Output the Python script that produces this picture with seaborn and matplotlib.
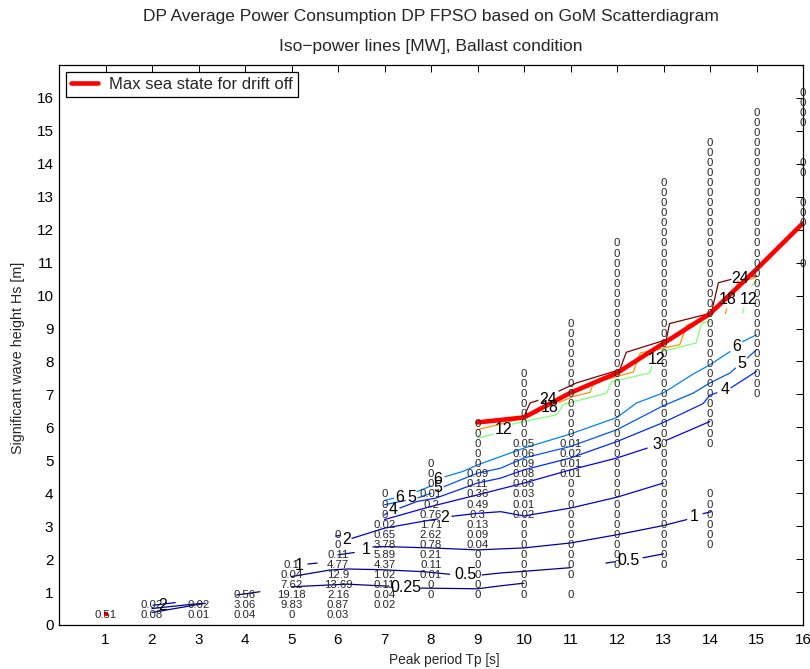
import matplotlib
matplotlib.use("Agg")
import matplotlib.pyplot as plt
import numpy as np
import pandas as pd
import seaborn as sns

# ---------------------------------------------------------------- data
HS_BIN = 0.3048  # Hs class width of the scatter diagram (1 ft)

# scatter-diagram cells per peak-period column, from first listed Hs class upward
# ("-" = empty cell)
tp_cols = [1, 2, 3, 4, 5, 6, 7, 8, 9, 10, 11, 12, 13, 14, 15, 16]
first_class = [0, 0, 0, 0, 0, 0, 1, 2, 2, 2, 2, 5, 5, 7, 22, 35]
cells_tp01 = "0.51"
cells_tp02 = "0.08 0.02"
cells_tp03 = "0.01 0.02"
cells_tp04 = "0.04 3.06 0.56"
cells_tp05 = "0 9.83 19.18 7.62 0.04 0.1"
cells_tp06 = "0.03 0.87 2.16 13.69 12.9 4.77 0.11 0 0"
cells_tp07 = "0.02 0.04 0.11 1.02 4.37 5.89 3.78 0.65 0.02 0 0 0"
cells_tp08 = "0 0 0.01 0.11 0.21 0.78 2.62 1.71 0.76 0.2 0.01 0 0 0"
cells_tp09 = "0 0 0 0 0 0.04 0.09 0.13 0.3 0.49 0.36 0.11 0.09 0 0 0 0 0"
cells_tp10 = "0 0 0 0 0 0 0 0 0.02 0.01 0.03 0.06 0.08 0.09 0.06 0.05 0 0 0 0 0 0 0"
cells_tp11 = "0 - 0 0 0 0 0 0 0 0 0 0 0.01 0.01 0.02 0.01 0 0 0 0 0 0 0 0 0 0 0 0"
cells_tp12 = "0 0 0 0 0 0 0 0 0 0 0 0 0 0 0 0 0 0 0 0 0 0 0 0 0 0 0 0 0 0 0 0 0"
cells_tp13 = ("0 0 0 0 0 0 0 0 0 0 0 0 0 0 0 0 0 0 0 0 "
              "0 0 0 0 0 0 0 0 0 0 0 0 0 0 0 0 0 0 0")
cells_tp14 = ("0 0 0 0 0 0 - - - - 0 0 0 0 0 0 0 0 0 0 0 0 0 0 0 0 "
              "0 0 0 0 0 0 0 0 0 0 0 0 0 0 0")
cells_tp15 = "0 0 0 0 0 0 0 0 0 0 0 0 0 0 0 0 0 0 0 0 0 0 0 0 0 0 0 0 0"
cells_tp16 = "0 - - - 0 0 0 - - 0 0 - - - 0 0 0 0"
cells_all = [cells_tp01, cells_tp02, cells_tp03, cells_tp04, cells_tp05, cells_tp06,
             cells_tp07, cells_tp08, cells_tp09, cells_tp10, cells_tp11, cells_tp12,
             cells_tp13, cells_tp14, cells_tp15, cells_tp16]

# iso-power lines [MW] (None = break in the line)
iso_01_tp = [3.82, 4.32]
iso_01_hs = [0.91, 1.01]
iso_025_tp = [2.0, 3.15, None, 5.0, 6.2, 6.9, 7.1, None, 7.78, 9.0, 9.5, 10.0]
iso_025_hs = [0.38, 0.66, None, 1.16, 1.24, 1.19, 1.18, None, 1.12, 1.10, 1.19, 1.27]
iso_05_tp = [2.0, 2.8, 3.1, None, 5.0, 5.83, 6.2, 6.9, 7.83, 8.4, None, 9.1, 9.5, 10.0, 11.0,
             None, 11.76, 11.95, None, 12.56, 13.0]
iso_05_hs = [0.50, 0.62, 0.66, None, 1.47, 1.67, 1.70, 1.68, 1.62, 1.54, None, 1.52, 1.58, 1.63,
             1.74, None, 1.88, 1.92, None, 2.04, 2.16]
iso_1_tp = [2.02, 2.5, None, 5.35, 5.55, None, 6.0, 6.35, None, 6.75, 7.0, 8.0, 9.0, 10.0, 11.0,
            12.0, 13.0, 13.5, None, 13.85, 14.03]
iso_1_hs = [0.60, 0.68, None, 1.85, 1.88, None, 2.13, 2.20, None, 2.37, 2.38, 2.34, 2.28, 2.34,
            2.49, 2.74, 3.02, 3.20, None, 3.38, 3.44]
iso_2_tp = [5.95, 6.05, None, 6.3, 7.0, 8.0, 8.15, None, 8.45, 9.0, 9.5, 10.0, 11.0, 12.0, 13.0]
iso_2_hs = [2.70, 2.72, None, 2.63, 2.94, 3.19, 3.22, None, 3.30, 3.39, 3.44, 3.31, 3.55, 3.88, 4.31]
iso_3_tp = [7.0, 8.0, 9.0, 10.0, 11.0, 12.0, 12.65, None, 13.05, 14.0]
iso_3_hs = [3.20, 3.60, 3.95, 4.31, 4.71, 5.07, 5.37, None, 5.60, 6.18]
iso_4_tp = [7.0, 7.05, None, 7.33, 7.7, 8.1, 9.0, 9.5, 10.0, 11.0, 12.0, 13.0, 13.85, 14.0, 14.15,
            None, 14.45, 15.0]
iso_4_hs = [3.34, 3.40, None, 3.55, 3.75, 3.85, 4.31, 4.46, 4.71, 5.07, 5.57, 6.15, 6.72, 6.98, 7.05,
            None, 7.20, 7.70]
iso_5_tp = [7.0, 7.45, None, 7.72, 8.0, None, 8.28, 9.0, 9.5, 10.0, 11.0, 12.0, 13.0, 13.64, 14.0,
            14.43, 14.55, None, 14.8, 15.0]
iso_5_hs = [3.65, 3.78, None, 3.86, 4.00, None, 4.20, 4.61, 4.76, 5.07, 5.42, 5.93, 6.66, 7.04, 7.35,
            7.65, 7.80, None, 8.10, 8.36]
iso_6_tp = [7.0, 7.2, None, 7.7, 8.0, None, 8.3, 8.68, 9.0, 10.0, 11.0, 12.0, 12.42, 13.0, 13.64,
            14.0, 14.43, None, 14.7, 15.0]
iso_6_hs = [3.78, 3.85, None, 4.05, 4.22, None, 4.50, 4.66, 4.86, 5.37, 5.80, 6.30, 6.74, 7.05, 7.62,
            7.90, 8.30, None, 8.60, 8.81]
iso_12_tp = [9.0, 9.35, None, 9.75, 10.0, 10.7, 10.85, 11.78, 11.88, 12.7, 12.75, None, 12.95, 13.7,
             13.82, 14.0, None, 14.7, 14.73, None, 14.9, 15.0]
iso_12_hs = [5.67, 5.80, None, 6.10, 6.18, 6.38, 6.70, 7.04, 7.38, 7.65, 7.85, None, 8.30, 8.56,
             9.17, 9.22, None, 9.48, 9.62, None, 10.30, 10.43]
iso_18_tp = [9.0, 9.5, 10.0, 10.3, None, 10.75, 11.06, 11.42, 11.5, 12.35, 12.5, 13.35, 13.5, 14.0,
             None, 14.33, 14.36, None, 14.55, 14.6, None, 14.85, 15.0]
iso_18_hs = [5.93, 6.10, 6.30, 6.45, None, 6.75, 6.94, 7.06, 7.35, 7.68, 8.26, 8.51, 9.10, 9.37,
             None, 9.45, 9.60, None, 10.15, 10.45, None, 10.50, 10.55]
iso_24_tp = [10.0, 10.13, 10.3, None, 10.75, 11.13, 12.06, 12.2, 13.06, 13.13, 14.03, 14.18, 14.45,
             None, 14.85, 15.0]
iso_24_hs = [6.33, 6.74, 6.82, None, 7.10, 7.35, 7.75, 8.28, 8.66, 9.15, 9.47, 10.39, 10.49,
             None, 10.58, 10.60]

iso_levels = [0.1, 0.25, 0.5, 1, 2, 3, 4, 5, 6, 12, 18, 24]
iso_tp = [iso_01_tp, iso_025_tp, iso_05_tp, iso_1_tp, iso_2_tp, iso_3_tp, iso_4_tp, iso_5_tp,
          iso_6_tp, iso_12_tp, iso_18_tp, iso_24_tp]
iso_hs = [iso_01_hs, iso_025_hs, iso_05_hs, iso_1_hs, iso_2_hs, iso_3_hs, iso_4_hs, iso_5_hs,
          iso_6_hs, iso_12_hs, iso_18_hs, iso_24_hs]

# contour labels
clab_text = ["2", "1", "0.25", "0.5", "1", "2", "2", "4", "6", "5", "6", "5", "12", "24", "18",
             "12", "3", "0.5", "1", "4", "5", "6", "18", "12", "24"]
clab_tp = [2.22, 5.17, 7.45, 8.75, 6.6, 6.18, 8.3, 7.18, 7.33, 7.59, 8.15, 8.15, 9.55, 10.51, 10.55,
           12.85, 12.85, 12.25, 13.67, 14.32, 14.68, 14.57, 14.39, 14.82, 14.65]
clab_hs = [0.60, 1.80, 1.15, 1.52, 2.28, 2.60, 3.25, 3.52, 3.88, 3.86, 4.42, 4.16, 5.93, 6.84, 6.60,
           8.05, 5.47, 1.97, 3.29, 7.14, 7.95, 8.46, 9.88, 9.88, 10.52]

# maximum sea state for drift off
drift_tp = [9, 10, 11, 12, 13, 14, 15, 16]
drift_hs = [6.15, 6.30, 7.05, 7.65, 8.55, 9.45, 10.80, 12.20]
drift_dot_tp = [1.0]
drift_dot_hs = [0.34]

x_ticks = list(range(1, 17))
y_ticks = list(range(0, 17))

# ---------------------------------------------------------------- plot
sns.set_theme(style="white")
plt.rcParams["font.family"] = ["Liberation Sans", "DejaVu Sans"]

fig = plt.figure(figsize=(8.10, 6.69), dpi=100)
ax = fig.add_axes([59 / 810, 44 / 669, 744 / 810, 560 / 669])

# iso-power lines table
rows = []
piece = 0
for lvl, xs, ys in zip(iso_levels, iso_tp, iso_hs):
    piece += 1
    for x, y in zip(xs, ys):
        if x is None:
            piece += 1
            continue
        rows.append({"Tp": x, "Hs": y, "level": str(lvl), "piece": piece})
iso_df = pd.DataFrame(rows)
jet = matplotlib.colormaps["jet"]
pal = {str(l): jet(l / 24.0) for l in iso_levels}
sns.lineplot(data=iso_df, x="Tp", y="Hs", hue="level", units="piece", estimator=None,
             sort=False, palette=pal, legend=False, linewidth=0.9, ax=ax, zorder=2)

sns.lineplot(x=drift_tp, y=drift_hs, color="#ff0000", linewidth=3.3, sort=False,
             label="Max sea state for drift off", ax=ax, zorder=4)
sns.scatterplot(x=drift_dot_tp, y=drift_dot_hs, color="#ff0000", marker="s", s=7,
                linewidth=0, ax=ax, zorder=4)

# scatter diagram values
for tp, k0, cells in zip(tp_cols, first_class, cells_all):
    for i, s in enumerate(cells.split()):
        if s == "-":
            continue
        ax.text(tp, (k0 + i + 1) * HS_BIN, s, ha="center", va="center", fontsize=8.2,
                color="#262626", zorder=5)

# contour labels
for s, x, y in zip(clab_text, clab_tp, clab_hs):
    ax.text(x, y, s, ha="center", va="center", fontsize=11.5, color="black", zorder=6)

ax.set_xlim(0, 16)
ax.set_ylim(0, 17)
ax.set_xticks(x_ticks)
ax.set_yticks(y_ticks)
ax.tick_params(direction="in", top=True, right=True, length=5, width=0.7,
               labelsize=11, colors="black", pad=4)
ax.tick_params(axis="x", pad=6)
for sp in ax.spines.values():
    sp.set_color("black")
    sp.set_linewidth(0.9)

ax.set_xlabel("Peak period Tp [s]", fontsize=9.8, va="center")
ax.xaxis.set_label_coords(0.5175, -0.0625)
ax.set_ylabel("Significant wave height Hs [m]", fontsize=10.3, va="center")
ax.yaxis.set_label_coords(-0.0551, 0.477)

fig.text(431 / 810, 1 - 17 / 669, "DP Average Power Consumption DP FPSO based on GoM Scatterdiagram",
         ha="center", va="center", fontsize=12.5)
fig.text(431 / 810, 1 - 47 / 669, "Iso\u2212power lines [MW], Ballast condition",
         ha="center", va="center", fontsize=12.5)

leg = ax.legend(loc="upper left", fontsize=12, frameon=True, fancybox=False,
                edgecolor="black", framealpha=1, borderaxespad=0.42, handlelength=1.6,
                handletextpad=0.7, borderpad=0.3)
leg.get_frame().set_linewidth(0.9)

fig.savefig("out.png", dpi=100)
